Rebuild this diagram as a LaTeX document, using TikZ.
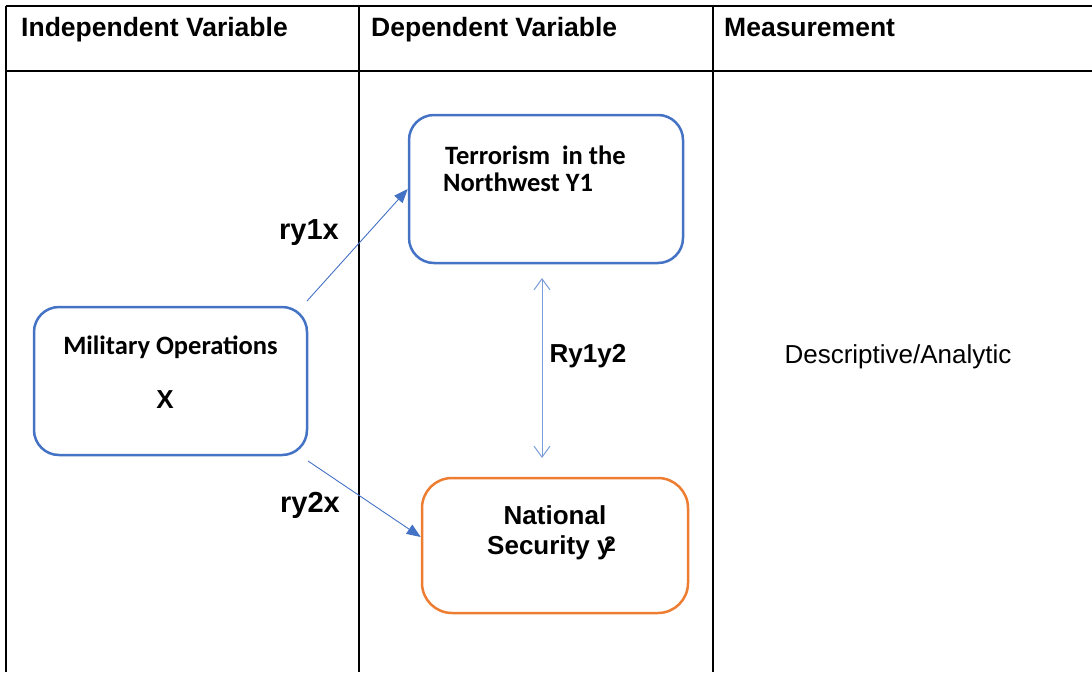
\documentclass[tikz,border=0pt]{standalone}
\usepackage{fontspec}
\setmainfont{Liberation Sans}
\newfontfamily\calibri{Carlito}
\usetikzlibrary{arrows.meta,calc}
\definecolor{offblue}{HTML}{4472C4}
\definecolor{offorange}{HTML}{ED7D31}
\definecolor{lightblue}{HTML}{7A9CDB}
\tikzset{
  grid line/.style={line width=2pt, black},
  vbox/.style={draw, rounded corners=25pt, line width=2.5pt, fill=none, inner sep=0pt},
  hdr/.style={anchor=base west, inner sep=0pt, font=\fontsize{26.5}{30}\selectfont\bfseries},
  lbl/.style={inner sep=0pt, font=\fontsize{26}{30}\selectfont\bfseries},
  rlbl/.style={inner sep=0pt, font=\fontsize{29}{32}\selectfont\bfseries},
  clbl/.style={inner sep=0pt, font=\calibri\fontsize{26.5}{30}\selectfont\bfseries},
  rel/.style={offblue, line width=0.9pt, -{Triangle[length=14pt,width=11pt]}},
  both/.style={lightblue, line width=1pt, {Straight Barb[length=11pt,width=16pt]}-{Straight Barb[length=11pt,width=16pt]}}
}
\begin{document}
\begin{tikzpicture}[x=1pt,y=-1pt]
\useasboundingbox (0,0) rectangle (1092,672);
% table
\draw[grid line] (6,6) -- (1092,6);
\draw[grid line] (6,71) -- (1092,71);
\draw[grid line] (6,6) -- (6,672);
\draw[grid line] (359,6) -- (359,672);
\draw[grid line] (713,6) -- (713,672);
\node[hdr] (h1) at (21,36) {Independent Variable};
\node[hdr] (h2) at (371,36) {Dependent Variable};
\node[hdr] (h3) at (724,36) {Measurement};
% boxes
\node[vbox, draw=offblue, minimum width=273pt, minimum height=148pt] (mil) at (170.5,381) {};
\node[vbox, draw=offblue, minimum width=274pt, minimum height=148pt] (ter) at (546,189) {};
\node[vbox, draw=offorange, rounded corners=30pt, minimum width=266pt, minimum height=135pt] (nat) at (555,545.5) {};
% box texts
\node[clbl] (milt) at (170.5,347) {Military Operations};
\node[lbl] (milx) at (165,400) {X};
\node[clbl, anchor=west] (ter1) at (445,155) {Terrorism\ \ in the};
\node[clbl, anchor=west] (ter2) at (443,182) {Northwest Y1};
\node[lbl] (nat1) at (555,515) {National};
\node[lbl, anchor=west] (nat2) at (487,548) {Security y\kern-0.28em\raisebox{3pt}{\fontsize{21}{21}\selectfont 2}};
% connectors
\coordinate (s1) at (307,301);
\coordinate (s2) at (308,461);
\draw[rel] (s1) -- (ter.west);
\draw[rel] (s2) -- ($(nat.west)+(0,-8.5)$);
\coordinate (v1) at (542,278);
\coordinate (v2) at (542,458);
\draw[both] (v1) -- (v2);
% labels
\node[rlbl] (r1) at (309,233) {ry1x};
\node[rlbl] (r2) at (310,505) {ry2x};
\node[lbl] (r3) at (588,356) {Ry1y2};
\node[inner sep=0pt, anchor=base, font=\fontsize{26}{30}\selectfont] (meas) at (898,363) {Descriptive/Analytic};
\end{tikzpicture}
\end{document}
